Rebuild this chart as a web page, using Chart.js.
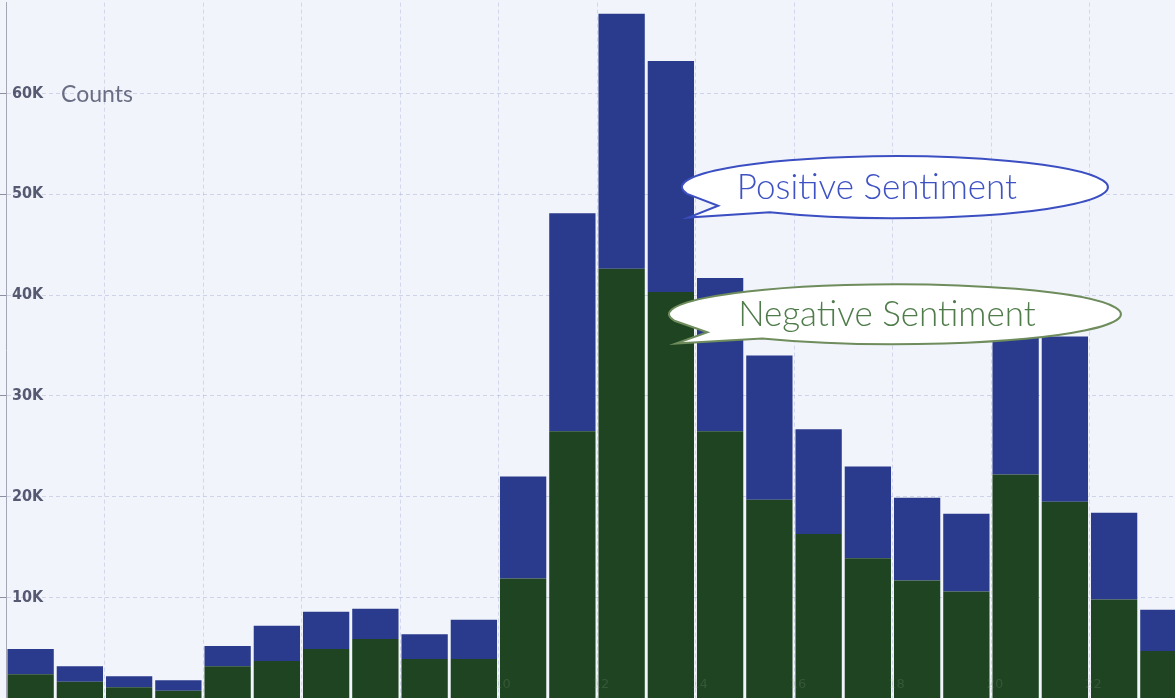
<!DOCTYPE html>
<html>
<head>
<meta charset="utf-8">
<script src="https://cdn.jsdelivr.net/npm/chart.js@4"></script>
<style>
    html, body { margin: 0; padding: 0; overflow: hidden; background: #f2f4fb; }
    #wrap { position: relative; width: 1175px; height: 698px; overflow: hidden; }
    #sentiment { position: absolute; left: -13px; top: -13px; }
</style>
</head>
<body>
<div id="wrap"><canvas id="sentiment" width="1201" height="727"></canvas></div>
<script>
    const hours = ['0', '1', '2', '3', '4', '5', '6', '7', '8', '9', '10', '11',
        '12', '13', '14', '15', '16', '17', '18', '19', '20', '21', '22', '23'];

    const negative = [2400, 1650, 1100, 770, 3200, 3700, 4900, 5900, 3900, 3900, 11900, 26500,
        42600, 40300, 26500, 19700, 16300, 13900, 11700, 10600, 22200, 19500, 9800, 4700];
    const positive = [2500, 1550, 1100, 1030, 2000, 3500, 3700, 3000, 2450, 3900, 10100, 21600,
        25300, 22900, 15200, 14300, 10400, 9100, 8200, 7700, 14300, 16400, 8600, 4100];

    const yTicks = [10000, 20000, 30000, 40000, 50000, 60000];

    // background, "Counts", faint hour labels and the two callouts
    const decorations = {
        id: 'decorations',
        beforeDraw(chart) {
            const ctx = chart.ctx;
            ctx.save();
            ctx.fillStyle = '#f2f4fb';
            ctx.fillRect(0, 0, chart.width, chart.height);
            ctx.restore();
        },
        afterDatasetsDraw(chart) {
            const ctx = chart.ctx;
            const x = chart.scales.x;
            const y = chart.scales.y;
            const half = (x.getPixelForValue(1) - x.getPixelForValue(0)) / 2;

            ctx.save();
            ctx.font = '13px "DejaVu Sans"';
            ctx.fillStyle = 'rgba(130,160,130,0.22)';
            ctx.textAlign = 'center';
            ctx.textBaseline = 'middle';
            hours.forEach((h, i) => {
                if (i % 2 === 0 && i >= 10) {
                    ctx.fillText(h, x.getPixelForValue(i) - half + 4, y.getPixelForValue(0) - 14);
                }
            });

            ctx.font = '23px "Lato"';
            ctx.fillStyle = '#6a6e84';
            ctx.textAlign = 'left';
            ctx.fillText('Counts', chart.chartArea.left + 55, y.getPixelForValue(60000) + 1);

            bubble(ctx, x.getPixelForValue(17.55), y.getPixelForValue(50700), 213, 31,
                'Positive Sentiment', '#3b4fc2', '#3e52c4', -18);
            bubble(ctx, x.getPixelForValue(17.55), y.getPixelForValue(38100), 226, 30,
                'Negative Sentiment', '#6e8c5c', '#4f7c4a', -8);
            ctx.restore();
        }
    };

    function bubble(ctx, cx, cy, rx, ry, text, stroke, color, shift) {
        ctx.beginPath();
        ctx.ellipse(cx, cy, rx, ry, 0, 0.93 * Math.PI, 2.70 * Math.PI, false);
        ctx.lineTo(cx - rx * 0.97, cy + ry * 0.98);
        ctx.lineTo(cx - rx * 0.83, cy + ry * 0.6);
        ctx.closePath();
        ctx.fillStyle = '#ffffff';
        ctx.fill();
        ctx.lineWidth = 2;
        ctx.strokeStyle = stroke;
        ctx.stroke();

        ctx.font = '300 35px "Lato"';
        ctx.fillStyle = color;
        ctx.textAlign = 'center';
        ctx.textBaseline = 'middle';
        ctx.fillText(text, cx + shift, cy + 1);
    }

    const data = {
        labels: hours,
        datasets: [
            {
                label: 'Negative Sentiment',
                data: negative,
                backgroundColor: '#1e4421',
                barPercentage: 0.94,
                categoryPercentage: 1.0,
            },
            {
                label: 'Positive Sentiment',
                data: positive,
                backgroundColor: '#2a3a8c',
                barPercentage: 0.94,
                categoryPercentage: 1.0,
            }
        ]
    };

    const config = {
        type: 'bar',
        data: data,
        options: {
            responsive: false,
            animation: false,
            layout: { padding: 0 },
            plugins: {
                legend: { display: false },
                tooltip: { enabled: false }
            },
            scales: {
                x: {
                    stacked: true,
                    ticks: { display: false },
                    grid: {
                        offset: true,
                        drawTicks: false,
                        color: (c) => (c.index > 0 && c.index % 2 === 0) ? 'rgba(140,150,200,0.3)' : 'rgba(0,0,0,0)',
                    },
                    border: { display: false, dash: [4, 3] }
                },
                y: {
                    stacked: true,
                    min: 0,
                    max: 69000,
                    afterBuildTicks: (scale) => { scale.ticks = yTicks.map(v => ({ value: v })); },
                    ticks: {
                        mirror: true,
                        padding: 6,
                        color: '#555a72',
                        font: { family: '"DejaVu Sans Condensed", "DejaVu Sans"', size: 16, weight: 'bold' },
                        callback: (v) => (v / 1000) + 'K'
                    },
                    grid: {
                        color: 'rgba(140,150,200,0.35)',
                        tickColor: '#8c8fa0',
                        tickLength: 7
                    },
                    border: { display: true, color: '#a4a6b4', width: 1, dash: [4, 3] }
                }
            }
        },
        plugins: [decorations]
    };

    const chart = new Chart(document.getElementById('sentiment'), config);
</script>
</body>
</html>
